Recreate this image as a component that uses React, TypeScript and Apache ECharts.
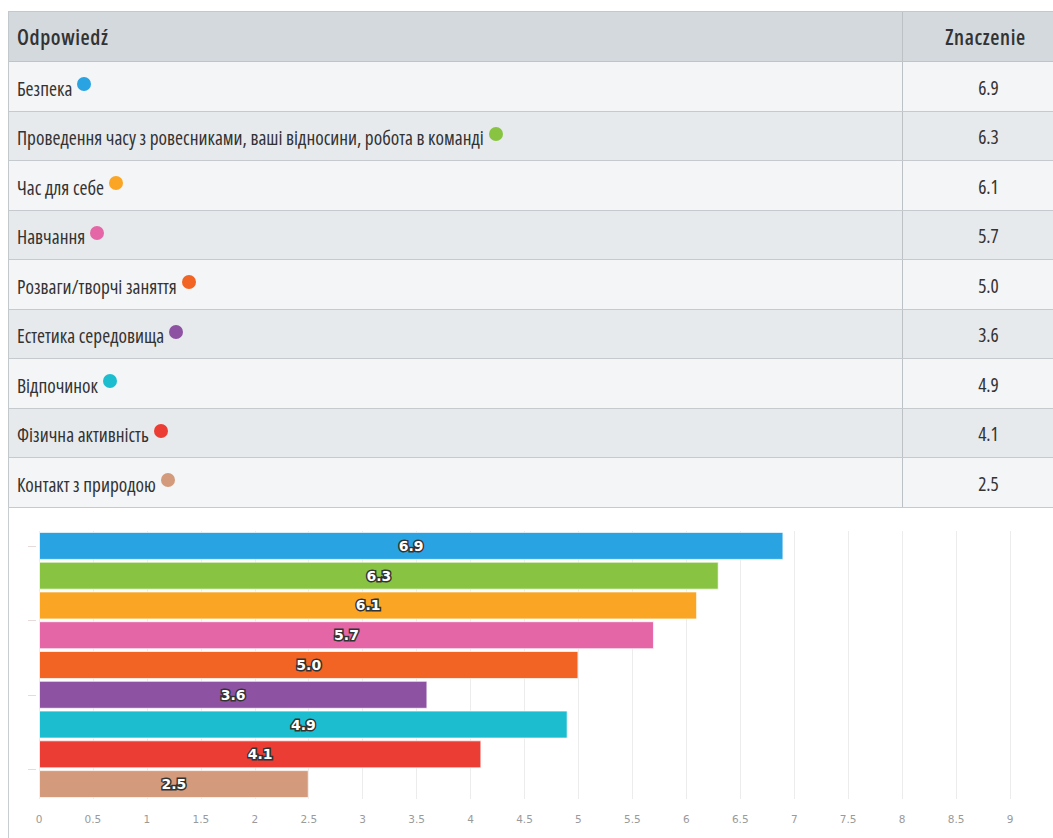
import React, { useEffect, useRef } from "react";
import * as echarts from "echarts";

const headerAnswer = "Odpowiedź";
const headerValue = "Znaczenie";
const categories = [
  "Безпека",
  "Проведення часу з ровесниками, ваші відносини, робота в команді",
  "Час для себе",
  "Навчання",
  "Розваги/творчі заняття",
  "Естетика середовища",
  "Відпочинок",
  "Фізична активність",
  "Контакт з природою",
];
const values = [6.9, 6.3, 6.1, 5.7, 5.0, 3.6, 4.9, 4.1, 2.5];
const colors = [
  "#2aa3e2",
  "#88c442",
  "#faa624",
  "#e466a7",
  "#f26424",
  "#8d52a2",
  "#1dbdd0",
  "#ec3d34",
  "#d49a7c",
];
const axisMin = 0;
const axisMax = 9;
const axisInterval = 0.5;
// faint ticks of the hidden left axis, in category units
const leftTickValues = [0, 2.5, 5, 7.5];

const tableFont = "'Open Sans', sans-serif";

function Table() {
  const rowH = 49.5;
  return (
    <div
      style={{
        position: "absolute",
        left: 8,
        top: 11,
        width: 1065,
        fontFamily: tableFont,
        fontStretch: "75%",
        color: "#333",
        borderTop: "1px solid #c3c8cd",
        borderLeft: "1px solid #c3c8cd",
      }}
    >
      <div
        style={{
          display: "flex",
          height: 50,
          boxSizing: "border-box",
          background: "#d4d9de",
          borderBottom: "1px solid #bfc4c9",
          fontSize: 21,
          fontWeight: 600,
          letterSpacing: 0.6,
        }}
      >
        <div style={{ width: 894, boxSizing: "border-box", paddingLeft: 8, display: "flex", alignItems: "center", borderRight: "1px solid #bcc1c6" }}>
          {headerAnswer}
        </div>
        <div style={{ flex: 1, display: "flex", alignItems: "center", justifyContent: "center", paddingRight: 6 }}>{headerValue}</div>
      </div>
      {categories.map((c, i) => (
        <div
          key={c}
          style={{
            display: "flex",
            height: rowH,
            boxSizing: "border-box",
            background: i % 2 === 0 ? "#f4f5f6" : "#e7eaed",
            borderBottom: "1px solid #c6cacf",
            fontSize: 19.3,
          }}
        >
          <div style={{ width: 894, boxSizing: "border-box", paddingLeft: 8, display: "flex", alignItems: "center", borderRight: "1px solid #bcc1c6" }}>
            <span style={{ position: "relative", top: 2 }}>{c}</span>
            <span
              style={{
                display: "inline-block",
                width: 14,
                height: 14,
                borderRadius: 7,
                background: colors[i],
                marginLeft: 5,
                position: "relative",
                top: -2,
              }}
            />
          </div>
          <div style={{ flex: 1, display: "flex", alignItems: "center", justifyContent: "center" }}>
            <span style={{ position: "relative", top: 1 }}>{values[i].toFixed(1)}</span>
          </div>
        </div>
      ))}
    </div>
  );
}

function Chart() {
  const ref = useRef<HTMLDivElement>(null);
  useEffect(() => {
    if (!ref.current) return;
    const chart = echarts.init(ref.current, undefined, { renderer: "svg" });
    chart.setOption({
      animation: false,
      grid: { left: 30, right: 43, top: 24, height: 268 },
      xAxis: {
        type: "value",
        min: axisMin,
        max: axisMax,
        interval: axisInterval,
        axisLine: { show: false },
        axisTick: { show: false },
        axisLabel: { color: "#9a9a9a", fontSize: 10.5, margin: 14, fontFamily: "'DejaVu Sans', sans-serif" },
        splitLine: { show: true, lineStyle: { color: "#ececec", width: 1 } },
      },
      yAxis: [
        {
          type: "category",
          data: categories,
          inverse: true,
          axisLine: { show: false },
          axisTick: { show: false },
          axisLabel: { show: false },
          splitLine: { show: false },
        },
        {
          type: "value",
          min: -0.5,
          max: categories.length - 0.5,
          inverse: true,
          position: "left",
          offset: 3,
          axisLine: { show: false },
          axisLabel: { show: false },
          splitLine: { show: false },
          axisTick: {
            show: true,
            length: 8,
            customValues: leftTickValues,
            lineStyle: { color: "#e6dada", width: 1 },
          },
        },
      ],
      series: [
        {
          type: "bar",
          data: values.map((v, i) => ({ value: v, itemStyle: { color: colors[i] } })),
          barCategoryGap: "6%",
          itemStyle: { borderColor: "rgba(255,255,255,0.7)", borderWidth: 1 },
          label: {
            show: true,
            position: "inside",
            formatter: (p: any) => Number(p.value).toFixed(1),
            color: "#fff",
            fontWeight: "bold",
            fontSize: 14,
            fontFamily: "'DejaVu Sans', sans-serif",
            textBorderColor: "#333",
            textBorderWidth: 3,
          },
        },
      ],
    });
    return () => chart.dispose();
  }, []);
  return (
    <div
      style={{
        position: "absolute",
        left: 8,
        top: 507,
        width: 1045,
        height: 331,
        borderLeft: "1px solid #c9cdd1",
        boxSizing: "border-box",
      }}
    >
      <div ref={ref} style={{ width: 1044, height: 331 }} />
    </div>
  );
}

export default function App() {
  return (
    <div style={{ position: "absolute", left: 0, top: 0, width: 1053, height: 838, overflow: "hidden", background: "#fff" }}>
      <Table />
      <Chart />
    </div>
  );
}
